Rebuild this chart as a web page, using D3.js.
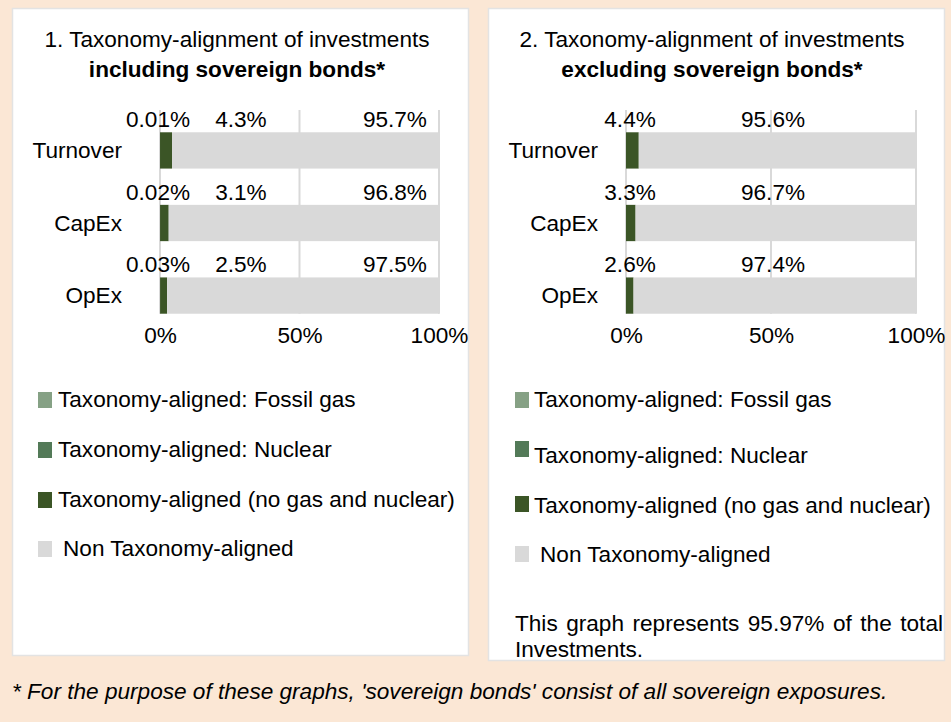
<!DOCTYPE html>
<html><head><meta charset="utf-8">
<script src="https://cdn.jsdelivr.net/npm/d3@7"></script>
<style>
html,body{margin:0;padding:0;background:#FBE7D5;}
svg{display:block;font-family:"Liberation Sans",Arial,sans-serif;}
</style></head>
<body>
<script>
// ---------- DATA ----------
const categories = ["Turnover", "CapEx", "OpEx"];
const seriesNames = ["Taxonomy-aligned: Fossil gas", "Taxonomy-aligned: Nuclear", "Taxonomy-aligned (no gas and nuclear)", "Non Taxonomy-aligned"];
// Chart 1: including sovereign bonds
const inclFossilGas = [0.01, 0.02, 0.03];
const inclNuclear   = [0, 0, 0];
const inclAligned   = [4.3, 3.1, 2.5];
const inclNonAligned = [95.7, 96.8, 97.5];
// Chart 2: excluding sovereign bonds
const exclFossilGas = [0, 0, 0];
const exclNuclear   = [0, 0, 0];
const exclAligned   = [4.4, 3.3, 2.6];
const exclNonAligned = [95.6, 96.7, 97.4];
const tickValues = [0, 50, 100];
const titles1 = ["1. Taxonomy-alignment of investments", "including sovereign bonds*"];
const titles2 = ["2. Taxonomy-alignment of investments", "excluding sovereign bonds*"];
const noteWords = ["This", "graph", "represents", "95.97%", "of", "the", "total"];
const noteLine2 = "Investments.";
const footnote = "* For the purpose of these graphs, 'sovereign bonds' consist of all sovereign exposures.";

// ---------- STYLE / LAYOUT ----------
const W = 951, H = 722, FS = 22.6;
const colors = ["#86A185", "#537A58", "#3B5526", "#D9D9D9"];
const svg = d3.select("body").append("svg").attr("width", W).attr("height", H);
svg.append("rect").attr("width", W).attr("height", H).attr("fill", "#FBE7D5");

const panels = [
  { box: [12, 8, 456, 647], x0: 160, x1: 439, titleX: 237, catX: 122, titles: titles1,
    series: [inclFossilGas, inclNuclear, inclAligned, inclNonAligned],
    labelPos: [-0.7, null, 29, 84.2],
    legX: 38, legTextX: 58, legY: [392, 442, 492, 541], legTextDy: [15, 15, 15, 15], legNonExtra: 5 },
  { box: [488, 8, 456, 652], x0: 626, x1: 916, titleX: 712, catX: 598, titles: titles2,
    series: [exclFossilGas, exclNuclear, exclAligned, exclNonAligned],
    labelPos: [null, null, 1.4, 50.7],
    legX: 515, legTextX: 534, legY: [392, 441, 496, 546], legTextDy: [15, 22, 17, 16], legNonExtra: 6,
    note: true }
];

function fmt(v) { return (v < 0.1 ? v.toFixed(2) : v.toFixed(1)) + "%"; }

panels.forEach(p => {
  const g = svg.append("g");
  g.append("rect").attr("x", p.box[0] + 0.5).attr("y", p.box[1] + 0.5)
    .attr("width", p.box[2]).attr("height", p.box[3])
    .attr("fill", "#fff").attr("stroke", "#E3E3E3").attr("stroke-width", 1.5);

  // titles
  g.append("text").attr("x", p.titleX).attr("y", 47).attr("text-anchor", "middle")
    .attr("font-size", FS).attr("fill", "#000").text(p.titles[0]);
  g.append("text").attr("x", p.titleX).attr("y", 77).attr("text-anchor", "middle")
    .attr("font-size", FS).attr("font-weight", "bold").attr("fill", "#000").text(p.titles[1]);

  const x = d3.scaleLinear().domain([0, 100]).range([p.x0, p.x1]);
  const y = d3.scaleBand().domain(categories).range([96, 350]).paddingInner(0.5).paddingOuter(0.5);
  const plotTop = 110, plotBottom = y(categories[2]) + y.bandwidth();

  // gridlines
  g.selectAll("line.grid").data(tickValues).join("line")
    .attr("x1", d => x(d)).attr("x2", d => x(d))
    .attr("y1", plotTop).attr("y2", plotBottom)
    .attr("stroke", "#D9D9D9").attr("stroke-width", 2);

  // stacked bars
  const rows = categories.map((c, i) => {
    let acc = 0;
    return p.series.map((s, k) => { const o = { cat: c, k, v: s[i], a: acc }; acc += s[i]; return o; });
  });
  rows.forEach(r => {
    g.selectAll(null).data(r.filter(d => d.v > 0)).join("rect")
      .attr("x", d => x(d.a)).attr("width", d => x(d.a + d.v) - x(d.a))
      .attr("y", d => y(d.cat)).attr("height", y.bandwidth())
      .attr("fill", d => colors[d.k]);
    // data labels
    g.selectAll(null).data(r.filter(d => d.v > 0 && p.labelPos[d.k] !== null)).join("text")
      .attr("x", d => x(p.labelPos[d.k])).attr("y", d => y(d.cat) - 5)
      .attr("text-anchor", "middle").attr("font-size", FS).attr("fill", "#000")
      .text(d => fmt(d.v));
  });

  // category axis labels
  g.selectAll("text.cat").data(categories).join("text")
    .attr("x", p.catX).attr("y", d => y(d) + y.bandwidth() / 2).attr("dy", "0.35em")
    .attr("text-anchor", "end").attr("font-size", FS).attr("fill", "#000").text(d => d);

  // x axis
  const ax = g.append("g").attr("transform", `translate(0,${plotBottom})`)
    .call(d3.axisBottom(x).tickValues(tickValues).tickFormat(d => d + "%").tickSize(0).tickPadding(13));
  ax.select(".domain").remove();
  ax.selectAll("text").attr("font-size", FS).attr("fill", "#000")
    .attr("font-family", "Liberation Sans, Arial, sans-serif").attr("dy", "0.71em");

  // legend
  seriesNames.forEach((n, k) => {
    g.append("rect").attr("x", p.legX).attr("y", p.legY[k]).attr("width", 14).attr("height", 16).attr("fill", colors[k]);
    g.append("text").attr("x", p.legTextX + (k === 3 ? p.legNonExtra : 0)).attr("y", p.legY[k] + p.legTextDy[k])
      .attr("font-size", FS).attr("fill", "#000").text(n);
  });

  if (p.note) {
    // justified first line
    const left = 515, right = 943, base = 631;
    const ts = noteWords.map(w => g.append("text").attr("y", base).attr("font-size", FS).attr("fill", "#000").text(w));
    const widths = ts.map(t => t.node().getComputedTextLength());
    const gap = (right - left - d3.sum(widths)) / (noteWords.length - 1);
    let cx = left;
    ts.forEach((t, i) => { t.attr("x", cx); cx += widths[i] + gap; });
    g.append("text").attr("x", left).attr("y", 657).attr("font-size", FS).attr("fill", "#000").text(noteLine2);
  }
});

svg.append("text").attr("x", 12).attr("y", 699).attr("font-size", FS).attr("font-style", "italic")
  .attr("fill", "#000").text(footnote);
</script>
</body></html>
